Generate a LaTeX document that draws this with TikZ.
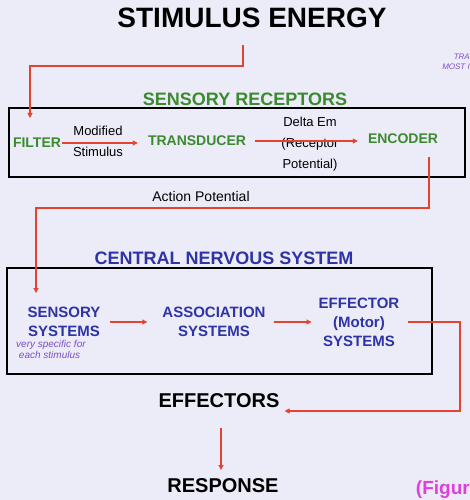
\documentclass[tikz,border=0pt]{standalone}
\usepackage{fontspec}
\setmainfont{Liberation Sans}
\usetikzlibrary{arrows.meta}
\definecolor{bgcol}{HTML}{ECEBF8}
\definecolor{arrred}{HTML}{E5432F}
\definecolor{recgreen}{HTML}{3B8A2F}
\definecolor{cnsblue}{HTML}{2E33A6}
\definecolor{penpurple}{HTML}{7B4FC8}
\definecolor{figmag}{HTML}{E03FE0}
\tikzset{
  conn/.style={arrred, line width=1.1pt, -{Triangle[length=5pt,width=5pt]}},
  frame/.style={draw=black, line width=1.6pt},
  rec/.style={recgreen, font=\fontsize{14}{16}\selectfont\bfseries, inner sep=1pt},
  cns/.style={cnsblue, font=\fontsize{15}{18.5}\selectfont\bfseries, align=center, inner sep=1pt},
  lbl/.style={font=\fontsize{13}{21}\selectfont, align=center, inner sep=1pt},
  big/.style={font=\fontsize{20}{24}\selectfont\bfseries, inner sep=1pt},
  pen/.style={penpurple, font=\fontsize{10}{11}\selectfont\itshape, align=left, inner sep=0pt},
}
\begin{document}
\begin{tikzpicture}[x=1pt, y=-1pt]
  \useasboundingbox (0,0) rectangle (470,500);
  \fill[bgcol] (0,0) rectangle (470,500);
  \begin{scope}
  \clip (0,0) rectangle (470,500);

  % 刺激
  \node[font=\fontsize{28}{32}\selectfont\bfseries, inner sep=0pt] (stim) at (252,18) {STIMULUS ENERGY};
  \coordinate (s1) at (243,45);

  % 感覚受容器
  \node[recgreen, font=\fontsize{18}{20}\selectfont\bfseries] (rectitle) at (245,99) {SENSORY RECEPTORS};
  \draw[frame] (9,108) rectangle (465,177);
  \node[rec] (filter) at (37,143) {FILTER};
  \node[rec] (trans) at (197,141) {TRANSDUCER};
  \node[rec] (enc) at (403,139) {ENCODER};
  \node[lbl] (modst) at (98,141) {Modified\\Stimulus};
  \node[lbl] (delta) at (310,144) {Delta Em\\(Receptor\\Potential)};
  \draw[conn] (filter) -- ([xshift=-9pt]filter -| trans.west);
  \draw[conn] ([xshift=8pt]trans.east) -- ([xshift=-9pt]trans.east -| enc.west);
  \draw[conn] (s1) -- (243,66) -| (30,118);

  % 活動電位
  \node[lbl, font=\fontsize{14}{16}\selectfont] (ap) at (201,196) {Action Potential};
  \coordinate (e1) at (429,157);

  % 中枢神経系
  \node[cnsblue, font=\fontsize{18}{20}\selectfont\bfseries] (cnstitle) at (224,258) {CENTRAL NERVOUS SYSTEM};
  \draw[frame] (7,268) rectangle (432,374);
  \node[cns] (sens) at (64,322) {SENSORY\\SYSTEMS};
  \node[cns] (assoc) at (214,322) {ASSOCIATION\\SYSTEMS};
  \node[cns, font=\fontsize{15}{19}\selectfont\bfseries] (effsys) at (359,322) {EFFECTOR\\(Motor)\\SYSTEMS};
  \node[pen, anchor=north west] (note) at (16,340) {very specific for\\\ each stimulus};
  \draw[conn] ([xshift=8pt]sens.east) -- ([xshift=-14pt]assoc.west);
  \draw[conn] ([xshift=7pt]assoc.east) -- ([xshift=-6pt]effsys.west);
  \draw[conn] (e1) -- (429,208) -| (36,293);

  % 効果器と反応
  \node[big] (eff) at (219,401) {EFFECTORS};
  \node[big] (resp) at (223,486) {RESPONSE};
  \coordinate (r1) at (221,428);
  \draw[conn] ([xshift=8pt]effsys.east) -- (460,322) |- ([xshift=4pt,yshift=-10pt]eff.east);
  \draw[conn] (r1) -- (r1 |- 0,470);

  % 書き込み
  \node[pen, font=\fontsize{8}{10}\selectfont\itshape, anchor=east] (tran) at (470,57) {TRA};
  \node[pen, font=\fontsize{8}{10}\selectfont\itshape, anchor=east] (most) at (470,67) {MOST I};
  \node[figmag, font=\fontsize{19}{22}\selectfont\bfseries, anchor=east, inner sep=0pt] (fig) at (470,490) {(Figur};
  \end{scope}
\end{tikzpicture}
\end{document}
